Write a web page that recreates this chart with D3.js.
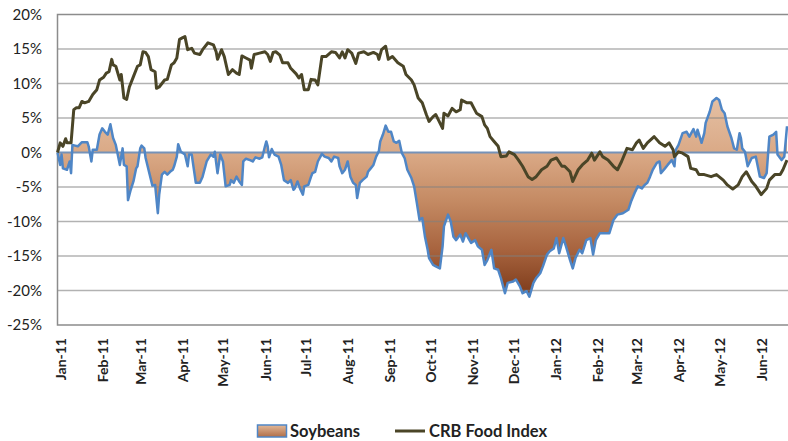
<!DOCTYPE html>
<html><head><meta charset="utf-8">
<script src="https://cdn.jsdelivr.net/npm/d3@7"></script>
<style>
html,body{margin:0;padding:0;background:#fff;}
svg{display:block;font-family:Lato,"Open Sans",sans-serif;}
</style></head><body>
<svg id="chart" width="788" height="441"></svg>
<script>
// ---------- DATA ----------
const seriesNames = ["Soybeans", "CRB Food Index"];

const soyDates = [
"2010-12-30","2011-01-01","2011-01-02","2011-01-03","2011-01-06","2011-01-08","2011-01-09","2011-01-10","2011-01-12","2011-01-14",
"2011-01-17","2011-01-21","2011-01-22","2011-01-24","2011-01-25","2011-01-28","2011-01-30","2011-02-01","2011-02-03","2011-02-05",
"2011-02-07","2011-02-09","2011-02-11","2011-02-14","2011-02-16","2011-02-17","2011-02-19","2011-02-20","2011-02-22","2011-02-24",
"2011-02-26","2011-02-27","2011-03-01","2011-03-02","2011-03-04","2011-03-05","2011-03-08","2011-03-10","2011-03-12","2011-03-14",
"2011-03-15","2011-03-17","2011-03-19","2011-03-21","2011-03-23","2011-03-25","2011-03-26","2011-03-28","2011-03-29","2011-03-31",
"2011-04-03","2011-04-05","2011-04-06","2011-04-08","2011-04-10","2011-04-11","2011-04-14","2011-04-16","2011-04-19","2011-04-22",
"2011-04-24","2011-04-25","2011-04-27","2011-04-29","2011-05-01","2011-05-03","2011-05-06","2011-05-07","2011-05-09","2011-05-11",
"2011-05-13","2011-05-15","2011-05-16","2011-05-18","2011-05-21","2011-05-23","2011-05-25","2011-05-28","2011-05-30","2011-06-01",
"2011-06-02","2011-06-03","2011-06-04","2011-06-06","2011-06-08","2011-06-11","2011-06-13","2011-06-15","2011-06-18","2011-06-20",
"2011-06-22","2011-06-23","2011-06-25","2011-06-27","2011-06-29","2011-06-30","2011-07-03","2011-07-05","2011-07-06","2011-07-08",
"2011-07-10","2011-07-13","2011-07-15","2011-07-18","2011-07-20","2011-07-22","2011-07-25","2011-07-26","2011-07-28","2011-07-30",
"2011-08-01","2011-08-03","2011-08-05","2011-08-07","2011-08-08","2011-08-10","2011-08-12","2011-08-15","2011-08-16","2011-08-18",
"2011-08-20","2011-08-22","2011-08-24","2011-08-25","2011-08-27","2011-08-29","2011-08-31","2011-09-02","2011-09-04","2011-09-06",
"2011-09-08","2011-09-10","2011-09-12","2011-09-14","2011-09-17","2011-09-19","2011-09-21","2011-09-23","2011-09-25","2011-09-27",
"2011-09-29","2011-09-30","2011-10-03","2011-10-05","2011-10-08","2011-10-10","2011-10-11","2011-10-14","2011-10-16","2011-10-18",
"2011-10-20","2011-10-23","2011-10-25","2011-10-27","2011-10-29","2011-10-31","2011-11-03","2011-11-05","2011-11-08","2011-11-10",
"2011-11-12","2011-11-15","2011-11-17","2011-11-20","2011-11-22","2011-11-25","2011-11-27","2011-12-01","2011-12-03","2011-12-06",
"2011-12-08","2011-12-11","2011-12-13","2011-12-16","2011-12-18","2011-12-21","2011-12-23","2011-12-26","2011-12-28","2011-12-31",
"2012-01-02","2012-01-04","2012-01-07","2012-01-09","2012-01-12","2012-01-14","2012-01-16","2012-01-19","2012-01-21","2012-01-24",
"2012-01-27","2012-01-29","2012-01-31","2012-02-03","2012-02-06","2012-02-10","2012-02-13","2012-02-16","2012-02-20","2012-02-24",
"2012-02-26","2012-02-29","2012-03-02","2012-03-05","2012-03-07","2012-03-09","2012-03-11","2012-03-13","2012-03-16","2012-03-18",
"2012-03-19","2012-03-22","2012-03-24","2012-03-27","2012-03-29","2012-03-30","2012-04-01","2012-04-04","2012-04-07","2012-04-09",
"2012-04-12","2012-04-14","2012-04-15","2012-04-18","2012-04-20","2012-04-21","2012-04-24","2012-04-26","2012-04-29","2012-05-01",
"2012-05-03","2012-05-05","2012-05-07","2012-05-10","2012-05-12","2012-05-14","2012-05-16","2012-05-17","2012-05-18","2012-05-20",
"2012-05-22","2012-05-25","2012-05-28","2012-05-31","2012-06-03","2012-06-05","2012-06-07","2012-06-10","2012-06-12","2012-06-13",
"2012-06-16","2012-06-18","2012-06-20"
];
const soyValues = [
0.0,-1.8,-0.3,-2.3,-2.5,-1.3,-3.0,1.1,1.0,0.9,
1.5,1.5,0.9,-1.3,0.4,0.4,2.6,3.5,3.0,2.6,
4.1,2.1,1.1,-1.8,0.6,-1.8,-2.0,-6.9,-5.4,-4.2,
-2.3,-2.0,0.6,1.0,0.6,-0.8,-3.2,-4.8,-4.7,-8.8,
-6.1,-3.2,-2.8,-3.2,-2.8,-2.5,-2.0,-0.6,1.2,0.1,
-0.3,-2.0,-0.3,-0.3,-3.0,-4.4,-4.4,-3.5,-1.3,-0.3,
-0.6,0.1,-3.0,-0.3,-1.3,-4.9,-4.7,-4.0,-4.4,-3.5,
-4.2,-4.7,-1.3,-0.9,-1.1,-1.3,-0.7,-0.9,-0.7,0.9,
1.6,0.9,-0.7,0.5,-0.3,-0.6,-1.8,-4.0,-4.4,-4.0,
-5.4,-5.2,-4.2,-5.3,-6.1,-4.9,-4.7,-3.5,-3.0,-2.8,
-1.3,-0.2,-0.6,-0.8,-1.3,-0.6,-0.8,-2.0,-3.0,-2.5,
-1.3,-3.5,-4.4,-4.7,-6.6,-4.4,-4.0,-3.5,-2.8,-2.3,
-1.8,-0.6,0.2,1.6,2.6,3.9,3.0,3.0,1.6,1.4,
1.7,-0.1,-0.8,-2.5,-3.7,-4.9,-7.3,-9.8,-9.5,-12.2,
-14.1,-15.3,-16.3,-16.5,-16.8,-13.6,-10.7,-9.0,-10.0,-12.2,
-12.7,-11.9,-12.9,-11.7,-12.4,-13.1,-12.7,-13.6,-14.1,-16.3,
-15.6,-14.1,-16.8,-17.0,-18.2,-20.4,-18.9,-18.7,-18.4,-19.4,
-20.4,-20.1,-20.9,-18.9,-18.2,-17.5,-16.5,-14.8,-14.3,-13.9,
-12.4,-14.6,-12.4,-13.6,-15.6,-16.8,-15.3,-14.1,-14.6,-12.7,
-12.4,-14.8,-12.7,-11.7,-11.7,-11.7,-9.8,-9.0,-8.8,-8.3,
-7.1,-5.7,-4.9,-5.2,-4.7,-4.4,-3.5,-2.5,-1.5,-1.3,
-3.0,-2.3,-1.8,-1.1,-2.0,0.4,1.1,2.8,3.0,2.3,
3.4,2.3,3.3,1.4,2.8,4.3,5.9,7.4,7.9,7.6,
6.2,5.7,3.8,2.1,0.6,0.4,2.8,2.1,0.6,0.1,
-2.0,-0.8,-0.6,-3.5,-3.7,-3.0,2.3,2.6,3.0,-0.3,
-1.1,-0.6,3.8
];

const crbDates = [
"2010-12-30","2011-01-01","2011-01-03","2011-01-05","2011-01-06","2011-01-09","2011-01-11","2011-01-13","2011-01-15","2011-01-17",
"2011-01-19","2011-01-22","2011-01-25","2011-01-28","2011-01-30","2011-02-02","2011-02-04","2011-02-06","2011-02-08","2011-02-09",
"2011-02-11","2011-02-14","2011-02-15","2011-02-17","2011-02-19","2011-02-21","2011-02-24","2011-02-27","2011-03-01","2011-03-03",
"2011-03-05","2011-03-07","2011-03-09","2011-03-12","2011-03-13","2011-03-15","2011-03-19","2011-03-21","2011-03-24","2011-03-26",
"2011-03-28","2011-03-30","2011-04-01","2011-04-03","2011-04-05","2011-04-08","2011-04-10","2011-04-14","2011-04-16","2011-04-20",
"2011-04-24","2011-04-26","2011-04-27","2011-04-30","2011-05-02","2011-05-05","2011-05-08","2011-05-11","2011-05-13","2011-05-15",
"2011-05-18","2011-05-21","2011-05-22","2011-05-24","2011-05-28","2011-06-01","2011-06-03","2011-06-05","2011-06-07","2011-06-09",
"2011-06-12","2011-06-14","2011-06-18","2011-06-20","2011-06-24","2011-06-26","2011-06-28","2011-06-30","2011-07-03","2011-07-05",
"2011-07-08","2011-07-10","2011-07-13","2011-07-16","2011-07-20","2011-07-23","2011-07-26","2011-07-28","2011-07-30","2011-08-01",
"2011-08-04","2011-08-07","2011-08-09","2011-08-13","2011-08-16","2011-08-20","2011-08-23","2011-08-24","2011-08-26","2011-08-29",
"2011-08-31","2011-09-03","2011-09-07","2011-09-11","2011-09-13","2011-09-17","2011-09-19","2011-09-22","2011-09-25","2011-09-28",
"2011-09-30","2011-10-03","2011-10-05","2011-10-07","2011-10-10","2011-10-11","2011-10-14","2011-10-17","2011-10-20","2011-10-23",
"2011-10-24","2011-10-28","2011-10-31","2011-11-04","2011-11-08","2011-11-10","2011-11-12","2011-11-14","2011-11-17","2011-11-20",
"2011-11-22","2011-11-26","2011-11-28","2011-12-02","2011-12-05","2011-12-08","2011-12-12","2011-12-15","2011-12-18","2011-12-22",
"2011-12-26","2011-12-29","2012-01-02","2012-01-06","2012-01-08","2012-01-12","2012-01-14","2012-01-18","2012-01-21","2012-01-25",
"2012-01-28","2012-01-30","2012-02-03","2012-02-05","2012-02-09","2012-02-13","2012-02-16","2012-02-19","2012-02-23","2012-02-27",
"2012-03-01","2012-03-03","2012-03-06","2012-03-09","2012-03-14","2012-03-18","2012-03-22","2012-03-25","2012-03-28","2012-03-29",
"2012-04-01","2012-04-04","2012-04-08","2012-04-10","2012-04-14","2012-04-16","2012-04-20","2012-04-25","2012-04-29","2012-05-04",
"2012-05-07","2012-05-11","2012-05-15","2012-05-18","2012-05-21","2012-05-25","2012-05-28","2012-06-01","2012-06-05","2012-06-07",
"2012-06-11","2012-06-15","2012-06-17","2012-06-20"
];
const crbValues = [
0.0,1.4,0.9,2.0,1.4,1.4,6.2,6.5,6.5,7.4,
7.2,7.4,8.4,9.1,10.5,10.9,11.5,11.7,13.5,12.7,
12.5,10.5,11.3,7.9,7.7,9.5,11.0,12.5,12.7,14.6,
14.5,13.9,12.0,11.7,9.3,9.5,10.5,10.6,12.7,13.0,
13.7,16.4,16.6,16.8,14.9,15.1,14.4,14.2,14.9,15.9,
15.6,14.6,13.5,14.9,13.9,11.3,12.0,11.5,11.3,14.0,
13.7,13.4,12.2,14.2,14.4,14.6,14.2,13.2,14.5,14.6,
14.1,13.0,13.0,12.2,11.4,10.8,11.3,9.1,9.1,10.6,
10.5,9.8,13.9,13.9,14.6,14.5,13.7,14.6,13.7,14.9,
14.4,12.9,14.4,14.6,14.2,14.5,14.2,13.5,14.9,15.4,
13.5,13.9,13.0,12.5,11.3,10.5,9.8,7.9,7.2,5.5,
4.5,5.2,5.5,4.7,3.5,5.7,5.3,6.4,5.9,6.2,
7.6,7.2,7.2,5.7,5.2,4.0,3.5,2.3,1.6,0.9,
-0.6,-0.5,0.1,-0.3,-1.1,-2.0,-3.5,-3.9,-3.5,-2.5,
-2.0,-1.1,-0.8,-2.0,-2.0,-2.8,-4.2,-2.5,-1.8,-1.1,
-0.1,-1.1,0.1,-0.6,-1.1,-2.0,-2.5,-1.3,0.6,0.4,
1.4,1.8,0.6,1.4,2.3,1.4,0.9,1.4,0.4,-0.6,
0.1,-0.1,-0.6,-2.3,-2.5,-3.2,-3.2,-3.5,-3.2,-4.0,
-4.7,-5.3,-4.7,-3.5,-2.8,-4.2,-4.9,-6.1,-5.2,-4.0,
-3.2,-3.2,-2.5,-1.1
];

const yTicks = [20, 15, 10, 5, 0, -5, -10, -15, -20, -25];
const monthTicks = [
"2011-01-01","2011-02-01","2011-03-01","2011-04-01","2011-05-01","2011-06-01",
"2011-07-01","2011-08-01","2011-09-01","2011-10-01","2011-11-01","2011-12-01",
"2012-01-01","2012-02-01","2012-03-01","2012-04-01","2012-05-01","2012-06-01"
];

// ---------- CHART ----------
const parse = d3.timeParse("%Y-%m-%d");
const soy = soyDates.map((d, i) => ({date: parse(d), v: soyValues[i]}));
const crb = crbDates.map((d, i) => ({date: parse(d), v: crbValues[i]}));

const svg = d3.select("#chart");
const plot = {left: 57.5, right: 787, top: 14.5, bottom: 325};

const x = d3.scaleTime()
  .domain(d3.extent(soy.concat(crb), d => d.date))
  .range([plot.left, plot.right]);
const y = d3.scaleLinear().domain([-25, 20]).range([plot.bottom, plot.top]);

const defs = svg.append("defs");
const grad = defs.append("linearGradient").attr("id", "soyGrad")
  .attr("gradientUnits", "userSpaceOnUse")
  .attr("x1", 0).attr("x2", 0)
  .attr("y1", y(d3.max(soyValues))).attr("y2", y(d3.min(soyValues)));
[[0, "#e4c0a4"], [0.28, "#daa986"], [0.52, "#c48a63"], [0.76, "#a8643f"], [1, "#7c3a19"]]
  .forEach(([o, c]) => grad.append("stop").attr("offset", o).attr("stop-color", c));

const lgGrad = defs.append("linearGradient").attr("id", "lgGrad")
  .attr("x1", 0).attr("x2", 0).attr("y1", 0).attr("y2", 1);
[[0, "#e2b898"], [1, "#b06e48"]]
  .forEach(([o, c]) => lgGrad.append("stop").attr("offset", o).attr("stop-color", c));

// area
const area = d3.area().x(d => x(d.date)).y0(y(0)).y1(d => y(d.v));
svg.append("path").datum(soy).attr("d", area).attr("fill", "url(#soyGrad)");

// gridlines
svg.append("g").selectAll("line").data(yTicks.filter(t => t !== 0 && t !== 20 && t !== -25))
  .join("line")
  .attr("x1", plot.left).attr("x2", 788)
  .attr("y1", d => y(d)).attr("y2", d => y(d))
  .attr("stroke", "#7f7f7f").attr("stroke-opacity", 0.6).attr("stroke-width", 1.5);

// border
svg.append("path")
  .attr("d", `M788,${y(20)}H${plot.left}V${y(-25)}H788`)
  .attr("fill", "none").attr("stroke", "#8c8c8c").attr("stroke-width", 1.5);

// zero line
svg.append("line").attr("x1", plot.left).attr("x2", 788)
  .attr("y1", y(0)).attr("y2", y(0))
  .attr("stroke", "#7592b8").attr("stroke-width", 2);

// soy line
const line = d3.line().x(d => x(d.date)).y(d => y(d.v));
svg.append("path").datum(soy).attr("d", line)
  .attr("fill", "none").attr("stroke", "#4f86c6").attr("stroke-width", 2.5)
  .attr("stroke-linejoin", "round");

// crb line
svg.append("path").datum(crb).attr("d", line)
  .attr("fill", "none").attr("stroke", "#4a4527").attr("stroke-width", 3)
  .attr("stroke-linejoin", "round");

// y axis labels
const yAxis = d3.axisLeft(y).tickValues(yTicks).tickSize(0).tickPadding(0)
  .tickFormat(d => d + "%");
const gy = svg.append("g").attr("transform", "translate(42,0)").call(yAxis);
gy.select(".domain").remove();
gy.selectAll("text").attr("font-size", 15).attr("fill", "#222")
  .attr("font-family", "Lato, 'Open Sans', sans-serif");

// x axis labels
const xAxis = d3.axisBottom(x).tickValues(monthTicks.map(parse)).tickSize(0)
  .tickFormat(d3.timeFormat("%b-%y"));
const gx = svg.append("g").attr("transform", `translate(0,${plot.bottom})`).call(xAxis);
gx.select(".domain").remove();
gx.selectAll("text")
  .attr("transform", "rotate(-90)")
  .attr("x", -13).attr("y", 0).attr("dy", "0.36em")
  .attr("text-anchor", "end")
  .attr("font-size", 14).attr("font-weight", "bold").attr("fill", "#222")
  .attr("font-family", "Lato, 'Open Sans', sans-serif");

// legend
const lg = svg.append("g");
lg.append("rect").attr("x", 257.5).attr("y", 425).attr("width", 29).attr("height", 12)
  .attr("fill", "url(#lgGrad)").attr("stroke", "#4f86c6").attr("stroke-width", 1.5);
lg.append("text").attr("x", 290).attr("y", 436.5).text(seriesNames[0])
  .attr("font-size", 16.5).attr("font-weight", "bold").attr("fill", "#222");
lg.append("line").attr("x1", 395).attr("x2", 425).attr("y1", 431).attr("y2", 431)
  .attr("stroke", "#4a4527").attr("stroke-width", 3);
lg.append("text").attr("x", 429).attr("y", 436.5).text(seriesNames[1])
  .attr("font-size", 16.5).attr("font-weight", "bold").attr("fill", "#222");
</script>
</body></html>
